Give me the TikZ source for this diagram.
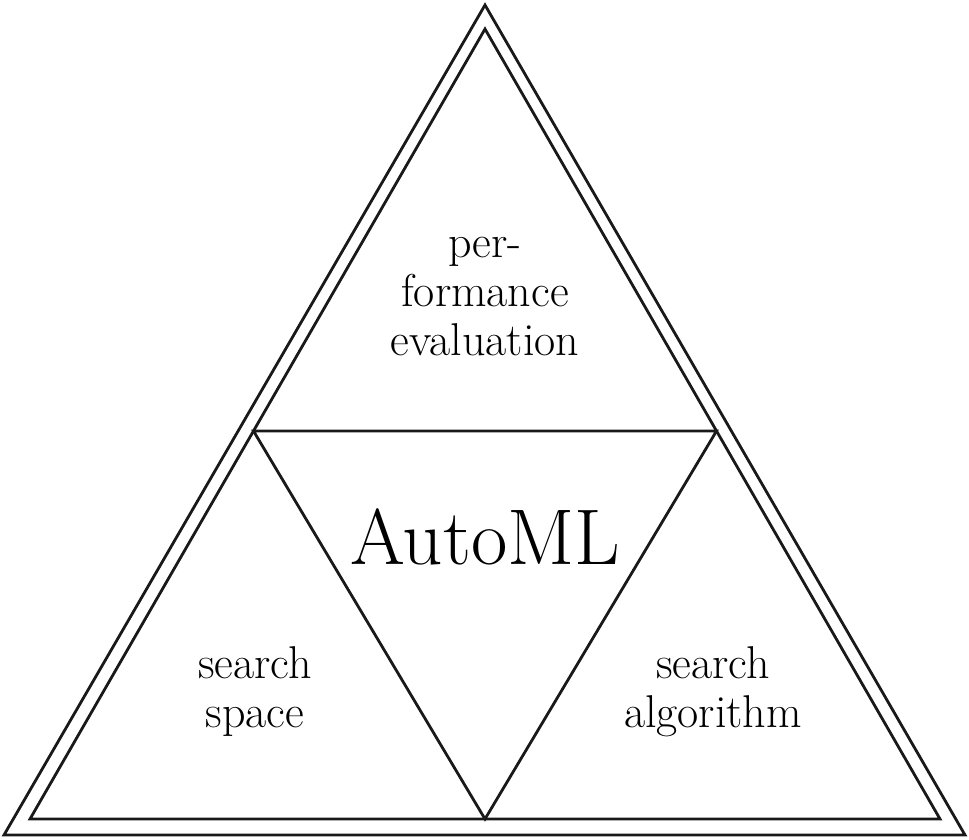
\documentclass[tikz,border=0pt]{standalone}
\begin{document}
\begin{tikzpicture}[x=1pt,y=-1pt,
  edge/.style={line width=2.8pt,line join=miter,black!90},
  lbl/.style={align=center,inner sep=0pt,font=\fontsize{46}{49}\selectfont},
  big/.style={inner sep=0pt,font=\fontsize{79}{88}\selectfont}]
\useasboundingbox (0,0) rectangle (969,839);
% outer triangle
\coordinate (OA) at (485,5);
\coordinate (OL) at (4,835);
\coordinate (OR) at (965,835);
% inner triangle
\coordinate (IA) at (485,29);
\coordinate (IL) at (30,819);
\coordinate (IR) at (940,819);
% subdivision points
\coordinate (ML) at (253.5,431);
\coordinate (MR) at (716.5,431);
\coordinate (MB) at (485,819);
\draw[edge] (OA) -- (OL) -- (OR) -- cycle;
\draw[edge] (IA) -- (IL) -- (IR) -- cycle;
\draw[edge] (ML) -- (MR) -- (MB) -- cycle;
\node[lbl] (perf) at (485,297) {per-\\formance\\evaluation};
\node[big] (auto) at (485,537) {AutoML};
\node[lbl] (space) at (255,692) {search\\space};
\node[lbl] (algo) at (713,692) {search\\algorithm};
\end{tikzpicture}
\end{document}
